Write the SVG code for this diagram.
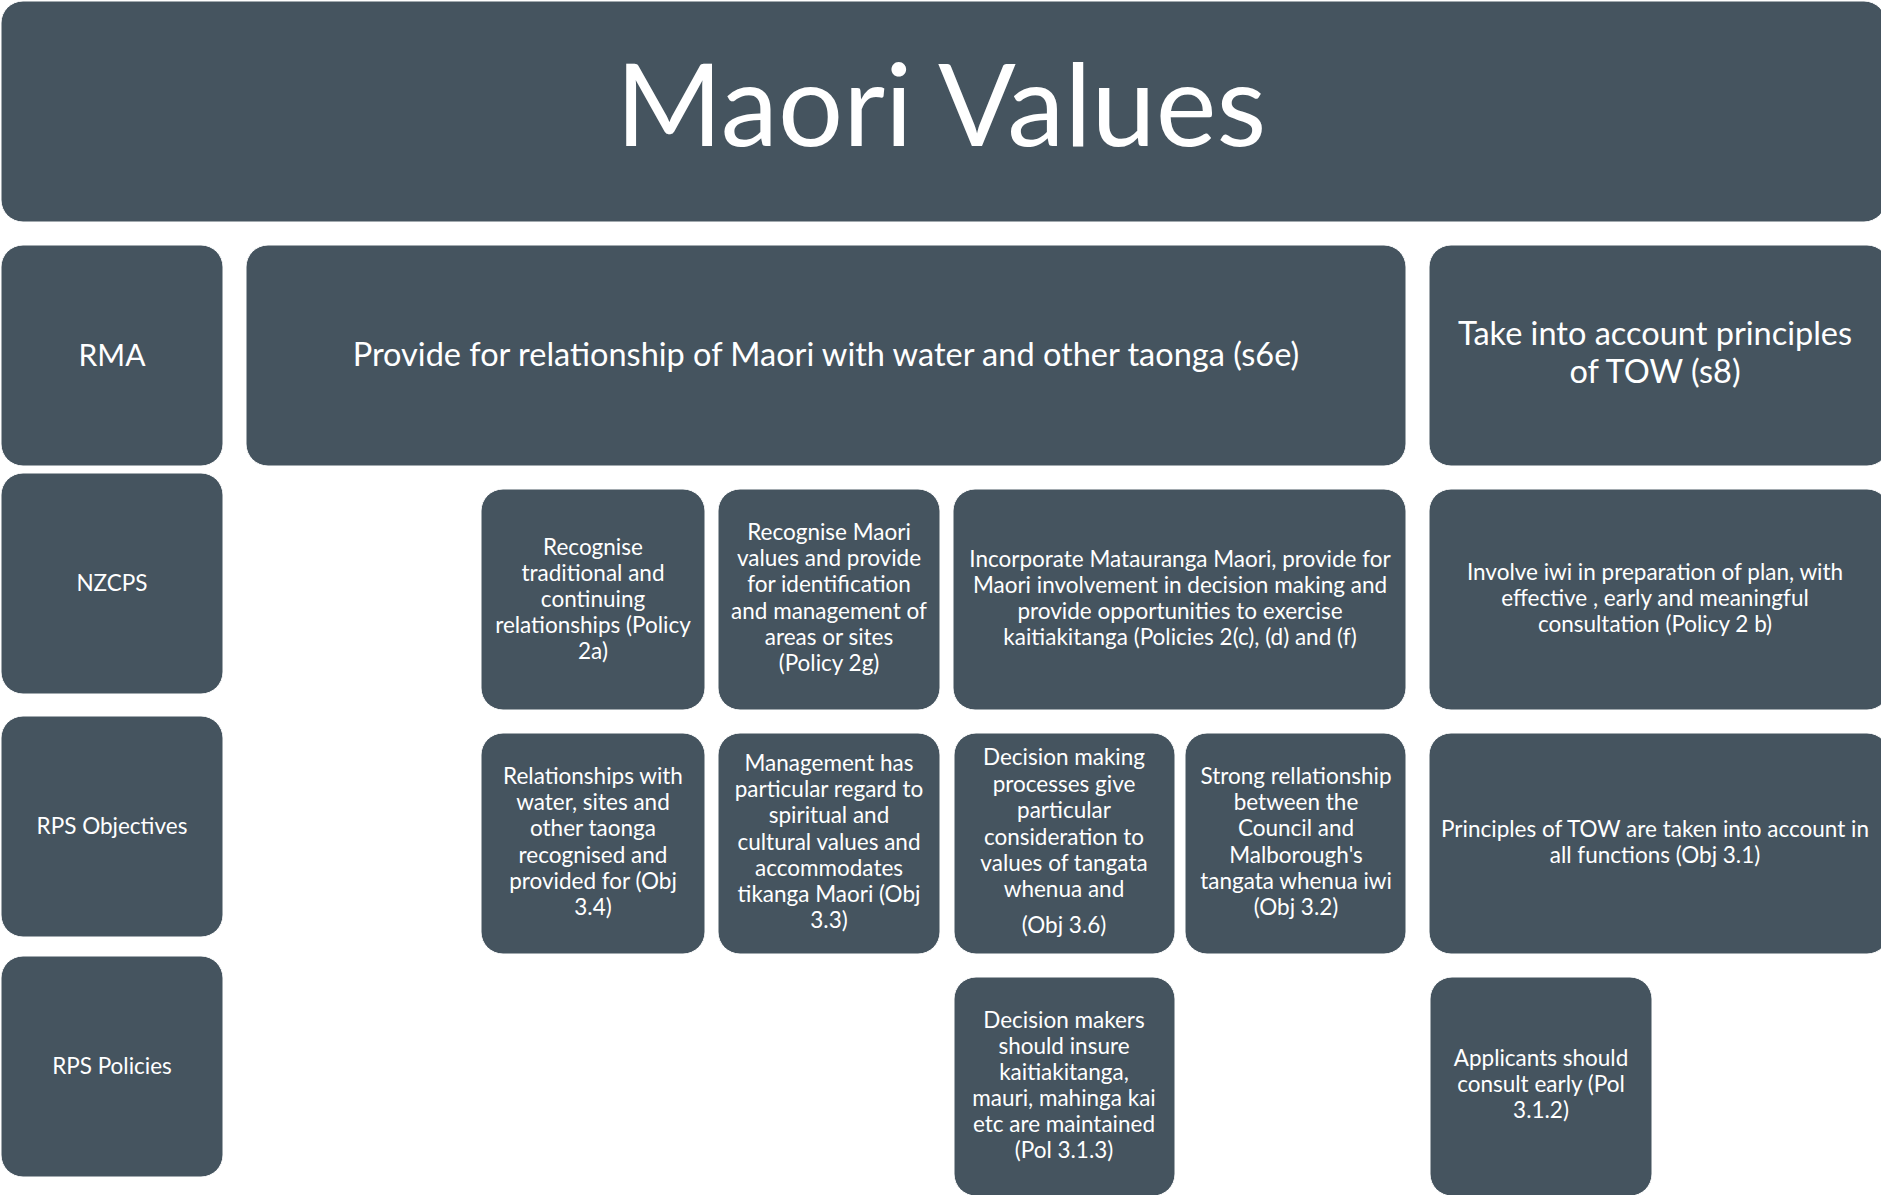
<svg xmlns="http://www.w3.org/2000/svg" width="1881" height="1195" viewBox="0 0 1881 1195">
<style>
.b{fill:#45545F;stroke:#ffffff;stroke-width:1}
text{fill:#ffffff;font-family:Lato,"Open Sans","Liberation Sans",sans-serif;text-anchor:middle}
.t{font-size:115px}
.m{font-size:32.5px}
.r{font-size:30px}
.s{font-size:22.5px}
</style>
<rect width="1881" height="1195" fill="#ffffff"/>
<g id="connectors"/>
<g id="title"><rect class="b" x="1" y="1" width="1885" height="221" rx="22"/><text class="t" x="941" y="146">Maori Values</text></g>
<g id="lbl-rma"><rect class="b" x="1" y="245" width="222" height="221" rx="22"/><text class="r" x="112" y="366">RMA</text></g>
<g id="lbl-nzcps"><rect class="b" x="1" y="473" width="222" height="221" rx="22"/><text class="s" x="112" y="591">NZCPS</text></g>
<g id="lbl-obj"><rect class="b" x="1" y="716" width="222" height="221" rx="22"/><text class="s" x="112" y="834">RPS Objectives</text></g>
<g id="lbl-pol"><rect class="b" x="1" y="956" width="222" height="221" rx="22"/><text class="s" x="112" y="1074">RPS Policies</text></g>
<g id="rma-s6e"><rect class="b" x="246" y="245" width="1160" height="221" rx="22"/><text class="m" x="826" y="366">Provide for relationship of Maori with water and other taonga (s6e)</text></g>
<g id="rma-s8"><rect class="b" x="1429" y="245" width="460" height="221" rx="22"/><text class="m" x="1655" y="345">Take into account principles</text><text class="m" x="1655" y="383">of TOW (s8)</text></g>
<g id="nz-2a"><rect class="b" x="481" y="489" width="224" height="221" rx="22"/><text class="s" x="593"><tspan x="593" y="555">Recognise</tspan><tspan x="593" y="581">traditional and</tspan><tspan x="593" y="607">continuing</tspan><tspan x="593" y="633">relationships (Policy</tspan><tspan x="593" y="659">2a)</tspan></text></g>
<g id="nz-2g"><rect class="b" x="718" y="489" width="222" height="221" rx="22"/><text class="s" x="829"><tspan x="829" y="540">Recognise Maori</tspan><tspan x="829" y="566">values and provide</tspan><tspan x="829" y="592">for identification</tspan><tspan x="829" y="619">and management of</tspan><tspan x="829" y="645">areas or sites</tspan><tspan x="829" y="671">(Policy 2g)</tspan></text></g>
<g id="nz-2cdf"><rect class="b" x="953" y="489" width="453" height="221" rx="22"/><text class="s" x="1180"><tspan x="1180" y="567">Incorporate Matauranga Maori, provide for</tspan><tspan x="1180" y="593">Maori involvement in decision making and</tspan><tspan x="1180" y="619">provide opportunities to exercise</tspan><tspan x="1180" y="645">kaitiakitanga (Policies 2(c), (d) and (f)</tspan></text></g>
<g id="nz-2b"><rect class="b" x="1429" y="489" width="460" height="221" rx="22"/><text class="s" x="1655"><tspan x="1655" y="580">Involve iwi in preparation of plan, with</tspan><tspan x="1655" y="606">effective , early and meaningful</tspan><tspan x="1655" y="632">consultation (Policy 2 b)</tspan></text></g>
<g id="obj-34"><rect class="b" x="481" y="733" width="224" height="221" rx="22"/><text class="s" x="593"><tspan x="593" y="784">Relationships with</tspan><tspan x="593" y="810">water, sites and</tspan><tspan x="593" y="836">other taonga</tspan><tspan x="593" y="863">recognised and</tspan><tspan x="593" y="889">provided for (Obj</tspan><tspan x="593" y="915">3.4)</tspan></text></g>
<g id="obj-33"><rect class="b" x="718" y="733" width="222" height="221" rx="22"/><text class="s" x="829"><tspan x="829" y="771">Management has</tspan><tspan x="829" y="797">particular regard to</tspan><tspan x="829" y="823">spiritual and</tspan><tspan x="829" y="850">cultural values and</tspan><tspan x="829" y="876">accommodates</tspan><tspan x="829" y="902">tikanga Maori (Obj</tspan><tspan x="829" y="928">3.3)</tspan></text></g>
<g id="obj-36"><rect class="b" x="954" y="733" width="221" height="221" rx="22"/><text class="s" x="1064"><tspan x="1064" y="765">Decision making</tspan><tspan x="1064" y="792">processes give</tspan><tspan x="1064" y="818">particular</tspan><tspan x="1064" y="845">consideration to</tspan><tspan x="1064" y="871">values of tangata</tspan><tspan x="1064" y="897">whenua and</tspan><tspan x="1064" y="933">(Obj 3.6)</tspan></text></g>
<g id="obj-32"><rect class="b" x="1185" y="733" width="221" height="221" rx="22"/><text class="s" x="1296"><tspan x="1296" y="784">Strong rellationship</tspan><tspan x="1296" y="810">between the</tspan><tspan x="1296" y="836">Council and</tspan><tspan x="1296" y="863">Malborough's</tspan><tspan x="1296" y="889">tangata whenua iwi</tspan><tspan x="1296" y="915">(Obj 3.2)</tspan></text></g>
<g id="obj-31"><rect class="b" x="1429" y="733" width="460" height="221" rx="22"/><text class="s" x="1655"><tspan x="1655" y="837">Principles of TOW are taken into account in</tspan><tspan x="1655" y="863">all functions (Obj 3.1)</tspan></text></g>
<g id="pol-313"><rect class="b" x="954" y="977" width="221" height="219" rx="22"/><text class="s" x="1064"><tspan x="1064" y="1028">Decision makers</tspan><tspan x="1064" y="1054">should insure</tspan><tspan x="1064" y="1080">kaitiakitanga,</tspan><tspan x="1064" y="1106">mauri, mahinga kai</tspan><tspan x="1064" y="1132">etc are maintained</tspan><tspan x="1064" y="1158">(Pol 3.1.3)</tspan></text></g>
<g id="pol-312"><rect class="b" x="1430" y="977" width="222" height="219" rx="22"/><text class="s" x="1541"><tspan x="1541" y="1066">Applicants should</tspan><tspan x="1541" y="1092">consult early (Pol</tspan><tspan x="1541" y="1118">3.1.2)</tspan></text></g>
</svg>
